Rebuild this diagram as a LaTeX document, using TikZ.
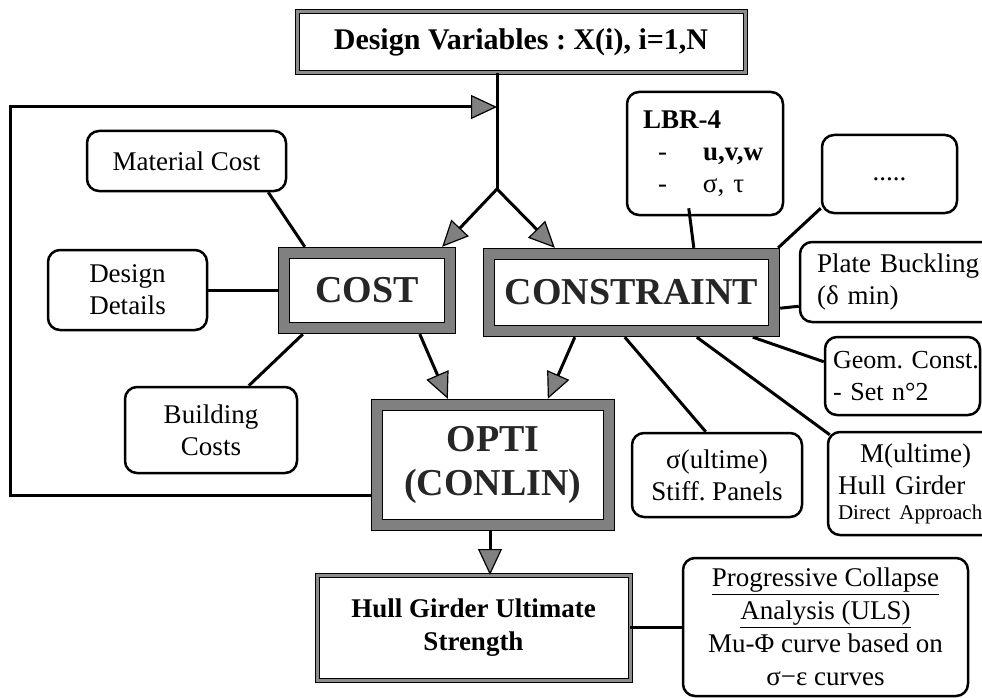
\documentclass[tikz,border=0pt]{standalone}
\usepackage{fontspec}
\setmainfont{Liberation Serif}
\frenchspacing
\usetikzlibrary{arrows.meta,calc}
\begin{document}
\begin{tikzpicture}[x=1pt,y=-1pt,
  rbox/.style={draw=black, line width=2.5pt, rounded corners=12pt, inner sep=0pt, font=\fontsize{27}{32}\selectfont, align=center},
  bigbox/.style={draw=black, line width=1.2pt, double=black!50, double distance=10pt, fill=white, inner sep=0pt, outer sep=6.2pt, font=\fontsize{38}{44}\selectfont\bfseries, align=center, text=black!85},
  framebox/.style={draw=black, line width=1pt, double=black!45, double distance=3pt, inner sep=0pt, outer sep=0pt, align=center},
  conn/.style={line width=3pt},
  arr/.style={line width=3pt, -{Triangle[length=26pt,width=24pt,fill=black!50,line width=1.2pt]}}
]
\useasboundingbox (0,0) rectangle (982,698);
\clip (0,0) rectangle (982,698);

% top box
\node[framebox, minimum width=448pt, minimum height=61pt, font=\fontsize{30}{34}\selectfont\bfseries] (dv) at (521,42.5) {Design Variables : X(i), i=1,N};

% central boxes
\node[bigbox, minimum width=166pt, minimum height=75pt] (cost) at (367,290.5) {COST};
\node[bigbox, minimum width=285pt, minimum height=77pt] (cons) at (631.5,292.5) {CONSTRAINT};
\node[bigbox, minimum width=232pt, minimum height=120pt] (opti) at (493,465) {OPTI\\(CONLIN)};

% cost side
\node[rbox, minimum width=199pt, minimum height=60pt] (mc) at (186.5,161) {Material Cost};
\node[rbox, minimum width=159pt, minimum height=80pt] (dd) at (127.5,290) {Design\\Details};
\node[rbox, minimum width=172pt, minimum height=86pt] (bc) at (211,430) {Building\\Costs};

% constraint side
\node[rbox, minimum width=156pt, minimum height=123pt, align=left, text width=124pt, inner xsep=16pt] (lbr) at (705,153.5)
  {\textbf{LBR-4}\\ \hspace*{15pt}\makebox[45pt][l]{-}\textbf{u,v,w}\\ \hspace*{15pt}\makebox[45pt][l]{-}σ, τ};
\node[rbox, minimum width=135pt, minimum height=78pt] (dots) at (889.5,174) {\raisebox{-6pt}[0pt][0pt]{.....}};
\node[rbox, minimum width=195pt, minimum height=80pt, align=left, text width=161pt, inner xsep=17pt] (plate) at (897.5,282) {\mbox{Plate Buckling}\\(δ min)};
\node[rbox, minimum width=155pt, minimum height=78pt, align=left, text width=139pt, inner xsep=8pt, font=\fontsize{26}{32}\selectfont] (geom) at (902.5,376) {\mbox{Geom. Const.}\\- Set n°2};
\node[rbox, minimum width=170pt, minimum height=84pt] (sig) at (717,475) {σ(ultime)\\Stiff. Panels};
\node[rbox, minimum width=170pt, minimum height=103pt, align=left, text width=150pt, inner xsep=10pt] (mbox) at (913,483.5)
  {\hspace*{22pt}M(ultime)\\Hull Girder\\[-7pt]{\fontsize{21}{24}\selectfont Direct Approach}};

% bottom
\node[framebox, minimum width=313pt, minimum height=105pt, font=\fontsize{27}{33}\selectfont\bfseries] (hull) at (473.5,627.5) {Hull Girder Ultimate\\Strength};
\node[rbox, minimum width=285pt, minimum height=138pt, font=\fontsize{27}{33}\selectfont] (prog) at (825.5,627)
  {\underline{Progressive Collapse}\\\underline{Analysis (ULS)}\\Mu-Φ curve based on\\σ−ε curves};

% junction and feedback
\coordinate (J) at (497,189);
\coordinate (FB) at (10,107);
\draw[conn] (J |- dv.south) -- (J);
\draw[arr] (J) -- ($(cost.north east)+(-14,0)$);
\draw[arr] (J) -- ($(cons.north west)+(72,0)$);
\draw[arr] ($(opti.west)+(0,30)$) -| (FB) -- (J |- FB);

% cost connectors
\draw[conn] ($(mc.south east)+(-19,0)$) -- ($(cost.north west)+(27,0)$);
\draw[conn] (dd.east) -- (dd.east -| cost.west);
\draw[conn] ($(bc.north west)+(125,0)$) -- ($(cost.south west)+(25,0)$);
\draw[arr] ($(cost.south west)+(142,0)$) -- ($(opti.north west)+(77,0)$);

% constraint connectors
\draw[conn] ($(lbr.south west)+(63,-8)$) -- ($(cons.north west)+(211,0)$);
\draw[conn] ($(dots.south west)+(0,-6)$) -- ($(cons.north east)+(-2,0)$);
\draw[conn] ($(plate.south west)+(0,-17)$) -- ($(cons.south east)+(0,-29)$);
\draw[conn] ($(geom.north west)+(0,26)$) -- ($(cons.south west)+(270,0)$);
\draw[conn] ($(sig.north west)+(75,0)$) -- ($(cons.south west)+(142,0)$);
\draw[conn] ($(mbox.north west)+(3,4)$) -- ($(cons.south west)+(214,0)$);
\draw[arr] ($(cons.south west)+(92,0)$) -- ($(opti.north west)+(177,0)$);

% bottom connectors
\draw[arr] ($(opti.south)+(-3,0)$) -- ($(hull.north)+(16.5,0)$);
\draw[conn] (hull.east) -- (hull.east -| prog.west);
\end{tikzpicture}
\end{document}
